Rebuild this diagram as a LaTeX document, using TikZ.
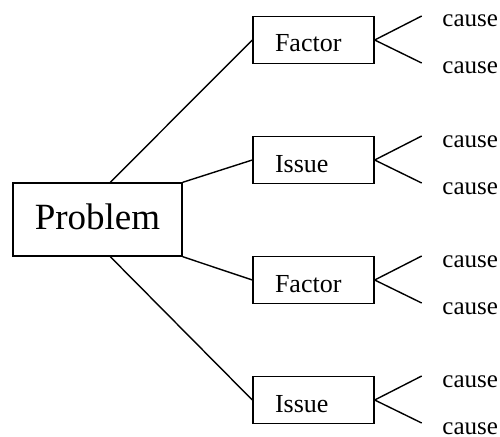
\documentclass[tikz,border=0pt]{standalone}
\usepackage{fontspec}
\setmainfont{Liberation Serif}
\usetikzlibrary{positioning}

\begin{document}
\begin{tikzpicture}[x=1pt,y=-1pt,line width=1.4pt,
   		probbox/.style={draw,minimum width=169pt,minimum height=73pt,inner sep=0pt,text height=20pt,text depth=0pt,font=\fontsize{37}{40}\selectfont},
   		subbox/.style={draw,text width=77pt,inner xsep=22pt,inner ysep=0pt,minimum height=47pt,align=left,text height=24pt,text depth=0pt,font=\fontsize{26}{30}\selectfont},
   		cause/.style={anchor=base west,inner sep=0pt,font=\fontsize{25}{30}\selectfont}]
   		\useasboundingbox (0,0) rectangle (500,436);
   		\node[probbox] (prob) at (97.5,219.5) {Problem}; % main box
   		\node[subbox]  (f1)   at (313.5,40)   {Factor};
   		\node[subbox]  (i2)   at (313.5,160)  {Issue};
   		\node[subbox]  (f3)   at (313.5,280)  {Factor};
   		\node[subbox]  (i4)   at (313.5,400)  {Issue};
   		\draw (prob.71)         -- (f1.west);
   		\draw (prob.north east) -- (i2.west);
   		\draw (prob.south east) -- (f3.west);
   		\draw (prob.-71)        -- (i4.west);
   		\foreach \n in {f1,i2,f3,i4} {
   			\coordinate[above right=24pt and 47pt of \n.east] (\n-up); % upper branch end
   			\coordinate[below right=23pt and 47pt of \n.east] (\n-dn); % lower branch end
   			\draw (\n-up) -- (\n.east) -- (\n-dn);
   			\node[cause] (\n-upt) at ([shift={(20,11)}]\n-up) {cause};
   			\node[cause] (\n-dnt) at ([shift={(20,11)}]\n-dn) {cause};
   		}
\end{tikzpicture}
\end{document}
